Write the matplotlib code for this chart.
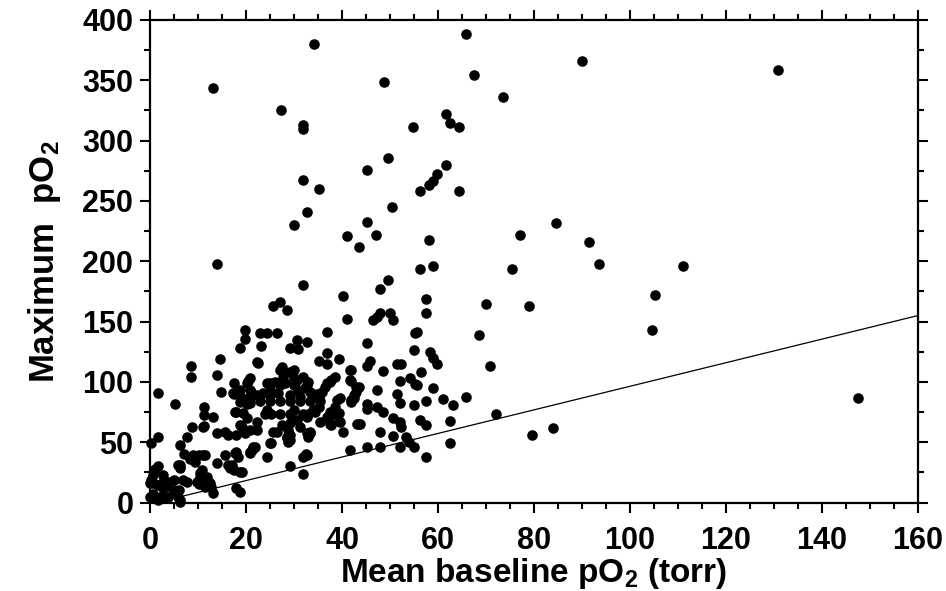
import numpy as np
import matplotlib
matplotlib.use("Agg")
import matplotlib.pyplot as plt
from matplotlib.ticker import MultipleLocator

# (mean baseline pO2, maximum pO2)
upper_pts = [
    (13.1, 343.7), (34.2, 380), (48.7, 348.4), (27.3, 325.5), (31.9, 313), (31.9, 310),
    (49.6, 286), (45.2, 275.4), (31.9, 267.6), (35.3, 260), (50.4, 245), (32.6, 240.5),
    (29.9, 229.8), (45.2, 232.8), (41, 220.6), (47.1, 222), (43.6, 211.8), (13.9, 198),
    (31.9, 180), (49.6, 184.6), (47.9, 177), (40.3, 170.8), (27.1, 166.6), (25.7, 163),
    (28.5, 159.8), (65.9, 388), (67.4, 354.2), (73.5, 336), (90, 366.4), (61.7, 322.4),
    (62.4, 314.7), (64.4, 311.6), (54.8, 311.6), (61.7, 279.8), (59.8, 272.4), (58.9, 266.2),
    (58.2, 263), (56.3, 258.5), (64.4, 258.5), (84.6, 231.4), (77, 222), (91.5, 216),
    (93.5, 197.7), (58.2, 217.8), (56.3, 193.5), (59, 196.3), (75.5, 193.5), (57.5, 169),
    (70, 164.7), (78.9, 163.3), (105.3, 172.2), (130.8, 358.7), (111, 196.3), (104.6, 143.2),
    (147.5, 87),
]

mid_pts = [
    (41, 152.3), (46.5, 150.9), (47.2, 154.2), (47.9, 157.5), (49.9, 157.5), (50.7, 150.9),
    (57.5, 157), (36.8, 141.7), (55.2, 140.4), (55.7, 141.7), (68.6, 139), (45.1, 132.6),
    (54.9, 126.6), (58.3, 125.1), (59, 119.7), (59.7, 115), (70.8, 113.3), (36.8, 123.8),
    (35.3, 117.7), (36.8, 114.9), (39.4, 119), (45.8, 117.4), (45.1, 113.3), (48.6, 109.1),
    (51.4, 114.7), (52.2, 114.7), (41.9, 110), (56.4, 108.5), (41.9, 101), (52.1, 101),
    (54.2, 103), (55.2, 98.3), (55.7, 97.5), (59, 94.8), (47.2, 93.4), (43.6, 95.6),
    (43, 92), (42.4, 86.5), (41.8, 85), (51.4, 89.8), (52.1, 82.8), (54.9, 81),
    (57.5, 84.5), (61, 85.9), (63.2, 81), (65.8, 87.3), (72.1, 73.4), (45.1, 81.7),
    (45.3, 77.4), (47.2, 79.5), (48.6, 75.4), (50.7, 69.9), (52.1, 67.1), (52.2, 62.9),
    (56.3, 68.5), (57.5, 64.3), (62.5, 67.9), (37.6, 72.6), (39.4, 74), (37.6, 64.3),
    (39.4, 67.9), (43.6, 64.9), (40.3, 58.8), (32.6, 57.4), (33.3, 58.8), (47.9, 58.8),
    (50.7, 55.2), (53.3, 54.6), (54, 50.5), (54.9, 46.3), (52.1, 45.8), (62.5, 49.6),
    (57.5, 37.5), (41.7, 43.6), (45.1, 46.3), (47.9, 46.3), (32.6, 39.4), (31.9, 38),
    (31.9, 23.7), (79.6, 56), (84, 62), (43.75, 65.1),
]

core_pts = [
    (19.8, 143.2), (19.8, 135.4), (22.9, 140.4), (24.3, 140.4), (26.4, 140.4), (18.75, 128),
    (23.1, 129.9), (29.2, 128.5), (30.9, 127.4), (30.6, 134.9), (32.6, 132.9), (22.2, 116.8),
    (27.4, 112), (29.2, 108.5), (25, 98.9), (26, 100.3), (27.1, 97.5), (28.1, 98.9),
    (29.9, 103), (29.9, 97.5), (30.9, 93.4), (31.9, 104.4), (33, 99.8), (32.3, 95.3),
    (33.3, 92), (34.7, 89.8), (31.25, 87.8), (29.2, 89.2), (26.7, 90.6), (25, 89.2),
    (23.6, 90.6), (22.2, 89.2), (20.8, 103), (36.8, 98.9), (37.8, 101.7), (38.5, 104.4),
    (41.7, 110), (41.7, 101.7), (39.6, 86.5), (42.4, 89.2), (43, 96.1), (37.5, 99.8),
    (36.5, 96.1), (35.8, 92), (35.1, 87.8), (22.9, 84), (25, 84), (27.1, 84),
    (29.2, 84), (31.3, 84), (33.3, 84), (35.4, 84), (24, 73), (25.3, 73),
    (27.1, 73), (29.2, 73), (31.9, 73), (33, 73), (35.1, 79.5), (34.4, 75.4),
    (37.5, 72.6), (39.6, 67), (37.5, 65.1), (41.8, 83.7), (43.2, 65.1), (22.2, 67),
    (20.8, 60.2), (22.2, 60.2), (28.8, 60.2), (29.2, 56), (28.5, 53.3), (29.2, 51.9),
    (27.4, 64.3), (25, 49.6), (21.5, 46.3), (20.8, 42.2), (32.5, 40.2), (24.3, 76.8),
    (29.9, 76.8), (30.6, 68.5), (32.6, 71.2), (34, 76.8), (29.2, 65.7), (31.25, 62.9),
    (35.4, 67), (36.8, 71.2), (37.5, 75.4), (38.5, 79.5), (38.9, 85), (30.6, 101.7),
    (32.6, 97.5), (27.8, 104.4), (27.1, 110), (29.9, 110), (24.3, 98.9), (25, 93.4),
]

low_pts = [
    (8.5, 113.5), (8.5, 103.9), (14.6, 118.8), (22.4, 116), (13.9, 105.8), (17.4, 99.4),
    (14.7, 92), (1.7, 90.6), (5.1, 81.5), (11.2, 79.5), (11.2, 72.6), (13.2, 70.7),
    (17.4, 90), (18.75, 93.4), (20.1, 98.9), (20.8, 93.4), (20.8, 87.8), (18.75, 83.7),
    (19.4, 74), (20.8, 82.3), (18, 74.8), (11.1, 62.9), (8.7, 62.9), (7.8, 54.1),
    (6.25, 47.7), (7.1, 40.2), (1.7, 54.1), (0.1, 49.6), (1.7, 30.3), (9, 39.4),
    (10.1, 39.4), (11.1, 39.4), (8.3, 35.7), (9.4, 33.9), (13.9, 33), (15.6, 39.4),
    (16.3, 31.1), (16.7, 28.4), (18, 42.2), (18.4, 38), (18.75, 25.6), (20.8, 40.8),
    (21.9, 45.8), (24.3, 38), (25.1, 49.6), (25.6, 58.8), (26.4, 58.8), (28.5, 54.1),
    (28.8, 50.5), (29.2, 30.3), (33.3, 57.9), (33, 54.6), (18, 11.8), (18.75, 9),
    (13.2, 8.1), (11.6, 18.7), (12.2, 14.5), (10.4, 24.2), (10.8, 27), (9.7, 17.3),
    (10.1, 15.1), (6.9, 18.7), (4.9, 18.7), (6.25, 31.1), (6.25, 28.4), (6.1, 10.4),
    (6.25, 2.1), (4.9, 9), (2.8, 22.8), (2.8, 17.3), (2.8, 11.8), (2.8, 4.8),
    (0.7, 22.8), (0.7, 16.6), (0.7, 7.1), (0, 4.8), (1.7, 14.5), (1.7, 2.1),
    (3.8, 17.3), (1, 28), (13.9, 57.4), (15.6, 58.8), (16.3, 56), (18, 56),
    (19.8, 57.4), (17.6, 75.4), (18.75, 64.3), (20.1, 69.9), (20.1, 81.7), (19.1, 62.9),
    (11.3, 63.5), (17.7, 41.3), (17, 31.1), (17.4, 27), (19.1, 25.6), (21.2, 43.6),
    (0.3, 18.7), (5.9, 31.1), (7.6, 17.3), (10.4, 21.4), (11.8, 21.4), (12.5, 15.9),
    (11.5, 13.1), (12.8, 13.1), (3.1, 12.6), (0.4, 4.8), (2.1, 4.8), (3.8, 4.8),
    (4.9, 10.4), (5.9, 4.8), (6.25, 0.7), (0, 15.9), (2.1, 14.5), (11.5, 39.4),
    (17.2, 90.6), (19.1, 86.5), (20.5, 100.8), (21, 92), (20.5, 83.7),
]

# reference line
line_x = [6, 160]
line_y = [4.5, 155]

plt.rcParams['font.family'] = ['Liberation Sans', 'DejaVu Sans']
plt.rcParams['font.weight'] = 'bold'
plt.rcParams['mathtext.fontset'] = 'custom'
plt.rcParams['mathtext.rm'] = 'Liberation Sans:bold'
plt.rcParams['mathtext.it'] = 'Liberation Sans:bold'
plt.rcParams['mathtext.bf'] = 'Liberation Sans:bold'

pts = np.array(upper_pts + mid_pts + core_pts + low_pts)

fig = plt.figure(figsize=(9.46, 5.91), dpi=100)
ax = fig.add_axes([0.1586, 0.1497, 0.8118, 0.8165])

ax.scatter(pts[:, 0], pts[:, 1], s=58, color='black', linewidths=0, zorder=3, clip_on=False)
ax.plot(line_x, line_y, color='black', lw=0.9, zorder=2)

ax.set_xlim(0, 160)
ax.set_ylim(0, 400)
ax.xaxis.set_major_locator(MultipleLocator(20))
ax.xaxis.set_minor_locator(MultipleLocator(5))
ax.yaxis.set_major_locator(MultipleLocator(50))
ax.yaxis.set_minor_locator(MultipleLocator(25))
ax.tick_params(which='both', direction='out', top=True, right=True, width=1.5)
ax.tick_params(which='major', length=7, labelsize=22, pad=5)
ax.tick_params(which='minor', length=4)
ax.tick_params(axis='x', pad=10)
for sp in ax.spines.values():
    sp.set_linewidth(1.6)

ax.set_xlabel(r'Mean baseline pO$_\mathrm{2}$ (torr)', fontsize=24, fontweight='bold', labelpad=0)
ax.set_ylabel(r'Maximum  pO$_\mathrm{2}$', fontsize=25, fontweight='bold', labelpad=14)

fig.savefig('out.png', dpi=100)
